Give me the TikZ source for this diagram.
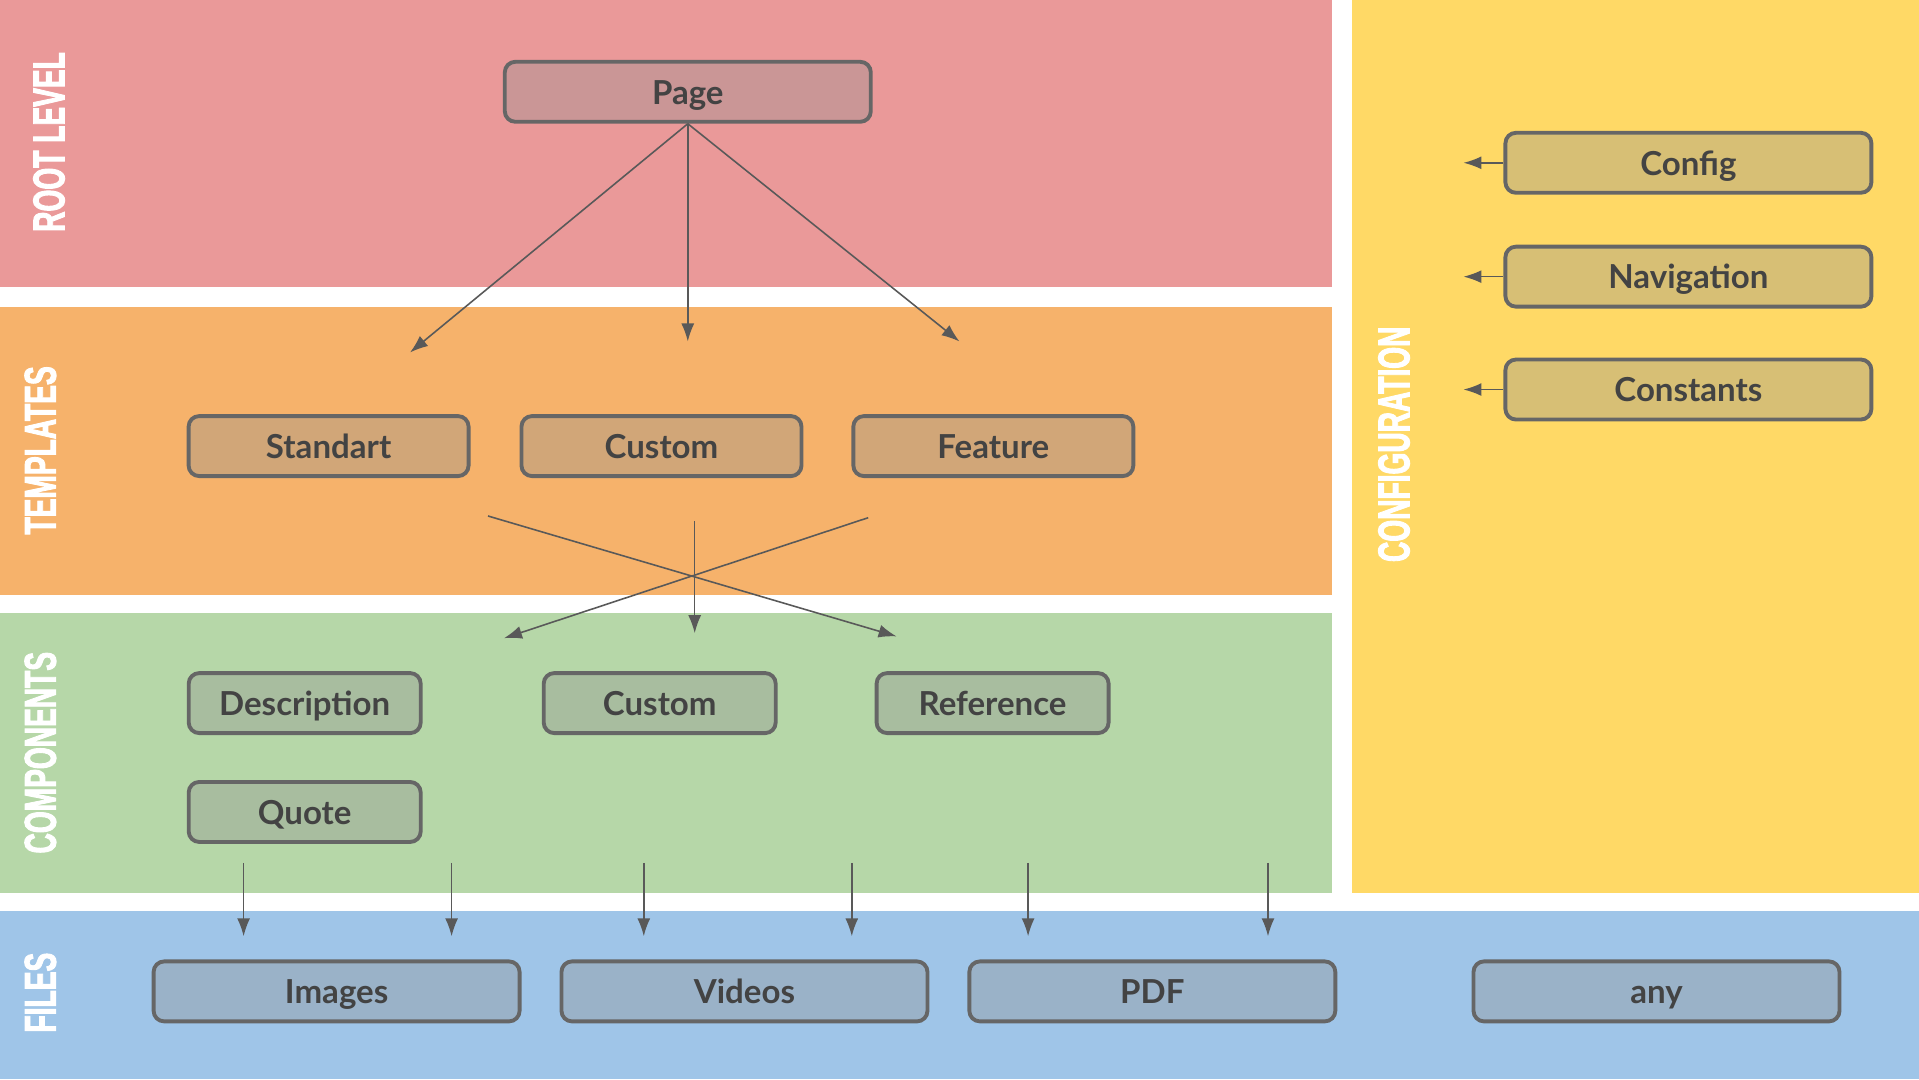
\documentclass[tikz,border=0pt]{standalone}
\usepackage{fontspec}
\setmainfont{Lato}
\newfontfamily\bandfont[FakeStretch=0.63,FakeBold=2]{Liberation Sans}
\usetikzlibrary{positioning,arrows.meta}

\definecolor{rootband}{HTML}{EA9999}
\definecolor{tplband}{HTML}{F6B26B}
\definecolor{compband}{HTML}{B6D7A8}
\definecolor{fileband}{HTML}{9FC5E8}
\definecolor{confband}{HTML}{FFD966}
\definecolor{boxgray}{HTML}{909090}
\definecolor{boxline}{HTML}{666666}
\definecolor{boxtext}{HTML}{434343}
\definecolor{arrowgray}{HTML}{595959}
\colorlet{rootbox}{rootband!64!boxgray}
\colorlet{tplbox}{tplband!64!boxgray}
\colorlet{compbox}{compband!64!boxgray}
\colorlet{filebox}{fileband!64!boxgray}
\colorlet{confbox}{confband!64!boxgray}

\begin{document}
\begin{tikzpicture}[
  box/.style={draw=boxline, line width=1.1pt, rounded corners=3pt, minimum height=0.60cm, inner sep=0pt, text height=8pt, text depth=1pt, text=boxtext, font=\bfseries\fontsize{9.4}{11}\selectfont},
  widebox/.style={box, minimum width=3.66cm},
  midbox/.style={box, minimum width=2.80cm},
  smallbox/.style={box, minimum width=2.32cm},
  bandlabel/.style={text=white, rotate=90, inner sep=0pt, font=\bandfont\bfseries\fontsize{12.7}{14}\selectfont},
  link/.style={-{Latex[length=1.8mm,width=1.3mm]}, draw=arrowgray, line width=0.45pt}
]
\useasboundingbox (0,0) rectangle (19.19,10.79);
% Bands
\fill[rootband] (0,7.915) rectangle (13.32,10.79);
\fill[tplband] (0,4.842) rectangle (13.32,7.718);
\fill[compband] (0,1.856) rectangle (13.32,4.658);
\fill[fileband] (0,0) rectangle (19.19,1.684);
\fill[confband] (13.524,1.856) rectangle (19.19,10.79);
\node[bandlabel] (rootlbl) at (0.49,9.37) {ROOT LEVEL};
\node[bandlabel] (tpllbl) at (0.404,6.286) {TEMPLATES};
\node[bandlabel] (complbl) at (0.404,3.263) {COMPONENTS};
\node[bandlabel] (filelbl) at (0.404,0.864) {FILES};
\node[bandlabel] (conflbl) at (13.94,6.347) {CONFIGURATION};

% Root level
\node[widebox, fill=rootbox] (page) at (6.878,9.872) {Page};
% Templates
\node[midbox, fill=tplbox] (standart) at (3.286,6.329) {Standart};
\node[midbox, fill=tplbox, right=0.49cm of standart] (tplcustom) {Custom};
\node[midbox, fill=tplbox, right=0.48cm of tplcustom] (feature) {Feature};
% Components
\node[smallbox, fill=compbox] (description) at (3.047,3.759) {Description};
\node[smallbox, fill=compbox] (compcustom) at (6.597,3.759) {Custom};
\node[smallbox, fill=compbox] (reference) at (9.926,3.759) {Reference};
\node[smallbox, fill=compbox, below=0.45cm of description] (quote) {Quote};
% Files
\node[widebox, fill=filebox] (images) at (3.366,0.876) {Images};
\node[widebox, fill=filebox, right=0.38cm of images] (videos) {Videos};
\node[widebox, fill=filebox, right=0.38cm of videos] (pdf) {PDF};
\node[widebox, fill=filebox] (any) at (16.565,0.876) {any};
% Configuration
\node[widebox, fill=confbox] (config) at (16.884,9.162) {Config};
\node[widebox, fill=confbox, below=0.50cm of config] (navigation) {Navigation};
\node[widebox, fill=confbox, below=0.49cm of navigation] (constants) {Constants};

% Arrow ends
\coordinate (pgL) at (4.100,7.265);
\coordinate (pgM) at (6.878,7.375);
\coordinate (pgR) at (9.595,7.375);
\coordinate (xLs) at (4.880,5.630);
\coordinate (xLe) at (8.966,4.426);
\coordinate (xRs) at (8.682,5.613);
\coordinate (xRe) at (5.040,4.408);
\coordinate (xMs) at (6.947,5.580);
\coordinate (xMe) at (6.947,4.458);
\coordinate (fAs) at (2.436,2.162); \coordinate (fAe) at (2.436,1.427);
\coordinate (fBs) at (4.516,2.162); \coordinate (fBe) at (4.516,1.427);
\coordinate (fCs) at (6.438,2.162); \coordinate (fCe) at (6.438,1.427);
\coordinate (fDs) at (8.518,2.162); \coordinate (fDe) at (8.518,1.427);
\coordinate (fEs) at (10.281,2.162); \coordinate (fEe) at (10.281,1.427);
\coordinate (fFs) at (12.680,2.162); \coordinate (fFe) at (12.680,1.427);
\coordinate[left=0.40cm of config] (cfgA);
\coordinate[left=0.40cm of navigation] (cfgB);
\coordinate[left=0.40cm of constants] (cfgC);

% Arrows
\draw[link] (page.south) -- (pgL);
\draw[link] (page.south) -- (pgM);
\draw[link] (page.south) -- (pgR);
\draw[link] (xLs) -- (xLe);
\draw[link] (xRs) -- (xRe);
\draw[link] (xMs) -- (xMe);
\draw[link] (fAs) -- (fAe);
\draw[link] (fBs) -- (fBe);
\draw[link] (fCs) -- (fCe);
\draw[link] (fDs) -- (fDe);
\draw[link] (fEs) -- (fEe);
\draw[link] (fFs) -- (fFe);
\draw[link] (config.west) -- (cfgA);
\draw[link] (navigation.west) -- (cfgB);
\draw[link] (constants.west) -- (cfgC);
\end{tikzpicture}
\end{document}
